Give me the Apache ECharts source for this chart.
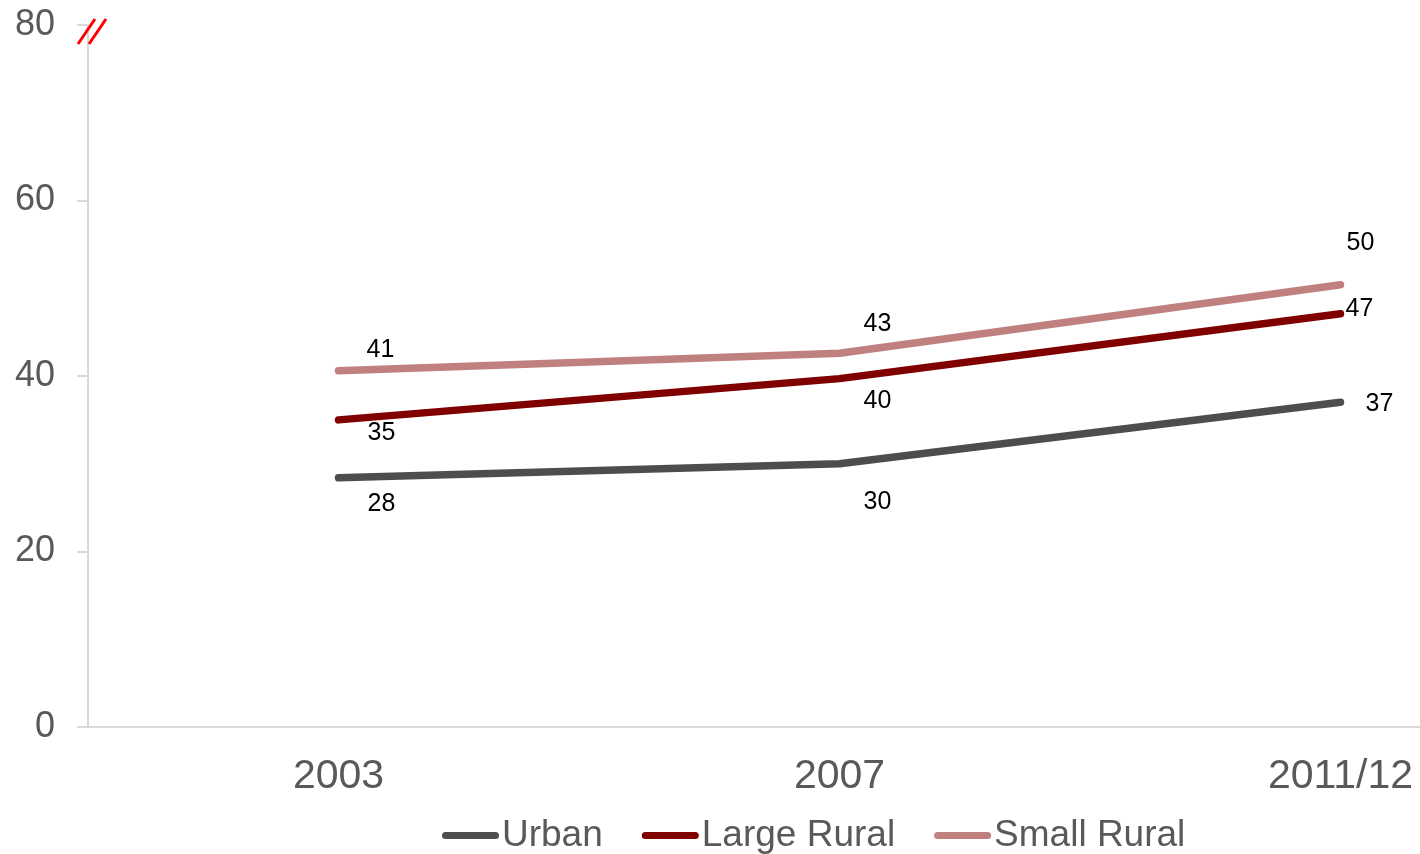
<!DOCTYPE html>
<html>
<head>
<meta charset="utf-8">
<title>Urban and rural trend</title>
<script src="https://cdn.jsdelivr.net/npm/echarts@6/dist/echarts.min.js"></script>
<style>
  html, body { margin: 0; padding: 0; background: #fff; }
  #chart { width: 1420px; height: 854px; }
</style>
</head>
<body>
<div id="chart"></div>
<script>
// Survey rounds and values per settlement type
const categories = ['2003', '2007', '2011/12'];
const urban = [28.4, 30.0, 37.0];
const largeRural = [35.0, 39.7, 47.1];
const smallRural = [40.6, 42.6, 50.4];
const yTicks = [0, 20, 40, 60, 80];

// Label placement relative to each point (dx, dy in px)
const urbanLabelOffsets = [[43, 26], [38, 38], [39, 2]];
const largeLabelOffsets = [[43, 13], [38, 22], [19, -5]];
const smallLabelOffsets = [[42, -21], [38, -29], [20, -42]];

const FONT = '"Liberation Sans", Arial, sans-serif';
const AXIS_GREY = '#d9d9d9';
const TEXT_GREY = '#595959';
const COLORS = { 'Urban': '#4d4d4d', 'Large Rural': '#800000', 'Small Rural': '#c08080' };

function buildData(values, offsets) {
  return values.map((v, i) => ({
    value: v,
    label: { offset: offsets[i] }
  }));
}

function lineSeries(name, values, offsets) {
  const color = COLORS[name];
  return {
    name: name,
    type: 'line',
    data: buildData(values, offsets),
    symbol: 'circle',
    symbolSize: 0.1,
    showSymbol: true,
    itemStyle: { color: color },
    lineStyle: { color: color, width: 7.5, cap: 'round', join: 'round' },
    label: {
      show: true,
      position: 'inside',
      color: '#000',
      fontFamily: FONT,
      fontSize: 25,
      formatter: p => Math.round(p.value)
    },
    emphasis: { disabled: true },
    z: 3
  };
}

const legendIcon = 'path://M3.5,0 L53.5,0 A3.5,3.5 0 0 1 53.5,7 L3.5,7 A3.5,3.5 0 0 1 3.5,0 Z';
const legendNames = ['Urban', 'Large Rural', 'Small Rural'];

const chart = echarts.init(document.getElementById('chart'), null, { renderer: 'canvas' });
chart.setOption({
  animation: false,
  backgroundColor: '#fff',
  // plot area runs past the right edge of the canvas
  grid: { left: 88, top: 25, width: 1503, height: 702, containLabel: false, outerBoundsMode: 'none' },
  xAxis: {
    type: 'category',
    data: categories,
    boundaryGap: true,
    axisLine: { show: true, lineStyle: { color: AXIS_GREY, width: 2 } },
    axisTick: { show: false },
    axisLabel: { color: TEXT_GREY, fontFamily: FONT, fontSize: 41, margin: 29 },
    splitLine: { show: false }
  },
  yAxis: {
    type: 'value',
    min: yTicks[0],
    max: yTicks[yTicks.length - 1],
    interval: yTicks[1] - yTicks[0],
    axisLine: { show: true, lineStyle: { color: AXIS_GREY, width: 2 } },
    axisTick: { show: true, inside: false, length: 11, lineStyle: { color: AXIS_GREY, width: 2 } },
    axisLabel: { color: TEXT_GREY, fontFamily: FONT, fontSize: 36, margin: 33 },
    splitLine: { show: false }
  },
  legend: {
    left: 437,
    top: 812,
    itemWidth: 57,
    itemHeight: 7,
    itemGap: 39,
    icon: legendIcon,
    selectedMode: false,
    textStyle: { color: TEXT_GREY, fontFamily: FONT, fontSize: 37, padding: [0, 0, 0, -2] },
    data: legendNames.map(n => ({ name: n, icon: legendIcon, itemStyle: { color: COLORS[n], opacity: 1 } }))
  },
  series: [
    lineSeries('Urban', urban, urbanLabelOffsets),
    lineSeries('Large Rural', largeRural, largeLabelOffsets),
    lineSeries('Small Rural', smallRural, smallLabelOffsets)
  ],
  graphic: [
    // axis break marker at the top of the value axis
    { type: 'line', shape: { x1: 78, y1: 44, x2: 95, y2: 19 }, style: { stroke: '#ff0000', lineWidth: 3 }, z: 10 },
    { type: 'line', shape: { x1: 89, y1: 44, x2: 106, y2: 19 }, style: { stroke: '#ff0000', lineWidth: 3 }, z: 10 }
  ]
});
</script>
</body>
</html>
